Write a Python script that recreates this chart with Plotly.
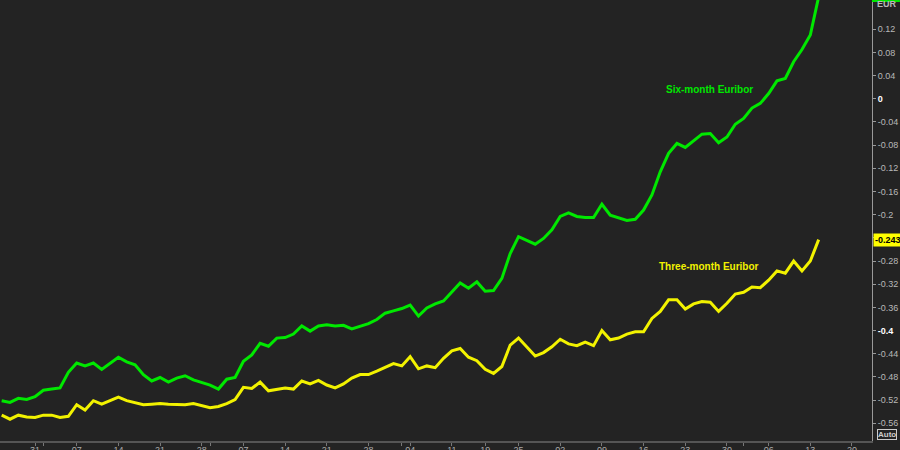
import pandas as pd
import plotly.graph_objects as go

# Trading days (TARGET calendar: weekends, Good Friday and Easter Monday closed)
holidays = ["2022-04-15", "2022-04-18"]
dates = [d.strftime("%Y-%m-%d") for d in
         pd.bdate_range("2022-01-25", "2022-06-14", freq="C", holidays=holidays)]

six_month = [
    -0.521, -0.524, -0.517, -0.519, -0.514, -0.503, -0.501, -0.499, -0.472, -0.456,
    -0.461, -0.456, -0.467, -0.457, -0.446, -0.454, -0.459, -0.476, -0.487, -0.481,
    -0.489, -0.482, -0.478, -0.485, -0.489, -0.494, -0.501, -0.484, -0.481, -0.453,
    -0.442, -0.422, -0.427, -0.413, -0.412, -0.406, -0.392, -0.401, -0.392, -0.390,
    -0.392, -0.391, -0.397, -0.392, -0.388, -0.381, -0.370, -0.366, -0.362, -0.356,
    -0.375, -0.361, -0.354, -0.349, -0.333, -0.318, -0.327, -0.316, -0.332, -0.331,
    -0.310, -0.267, -0.238, -0.244, -0.251, -0.241, -0.226, -0.203, -0.197, -0.203,
    -0.205, -0.205, -0.182, -0.201, -0.206, -0.210, -0.208, -0.192, -0.166, -0.126,
    -0.094, -0.077, -0.084, -0.073, -0.061, -0.060, -0.076, -0.066, -0.044, -0.034,
    -0.016, -0.008, 0.009, 0.031, 0.035, 0.064, 0.085, 0.110, 0.176,
]

three_month = [
    -0.546, -0.553, -0.546, -0.549, -0.550, -0.546, -0.546, -0.550, -0.548, -0.528,
    -0.537, -0.521, -0.527, -0.521, -0.515, -0.521, -0.524, -0.528, -0.527, -0.526,
    -0.527, -0.527, -0.528, -0.526, -0.530, -0.533, -0.531, -0.526, -0.519, -0.498,
    -0.500, -0.489, -0.504, -0.501, -0.499, -0.501, -0.487, -0.492, -0.486, -0.494,
    -0.499, -0.492, -0.482, -0.476, -0.476, -0.470, -0.463, -0.457, -0.461, -0.445,
    -0.466, -0.461, -0.464, -0.448, -0.435, -0.431, -0.446, -0.452, -0.467, -0.474,
    -0.462, -0.425, -0.413, -0.428, -0.444, -0.438, -0.428, -0.415, -0.423, -0.426,
    -0.420, -0.426, -0.400, -0.416, -0.413, -0.406, -0.402, -0.402, -0.379, -0.367,
    -0.347, -0.347, -0.363, -0.354, -0.350, -0.351, -0.367, -0.353, -0.337, -0.334,
    -0.325, -0.326, -0.313, -0.297, -0.301, -0.280, -0.297, -0.280, -0.243,
]

x_tick_dates = ["2022-01-31", "2022-02-07", "2022-02-14", "2022-02-21", "2022-02-28",
                "2022-03-07", "2022-03-14", "2022-03-21", "2022-03-28", "2022-04-04",
                "2022-04-11", "2022-04-19", "2022-04-25", "2022-05-02", "2022-05-09",
                "2022-05-16", "2022-05-23", "2022-05-30", "2022-06-06", "2022-06-13",
                "2022-06-20"]
x_tick_labels = ["31", "07", "14", "21", "28", "07", "14", "21", "28", "04", "11",
                 "19", "25", "02", "09", "16", "23", "30", "06", "13", "20"]
month_starts = ["2022-02-01", "2022-03-01", "2022-04-01", "2022-06-01"]

y_tick_vals = [0.12, 0.08, 0.04, 0.0, -0.04, -0.08, -0.12, -0.16, -0.2, -0.24,
               -0.28, -0.32, -0.36, -0.4, -0.44, -0.48, -0.52, -0.56]
y_tick_labels = ["0.12", "0.08", "0.04", "<b><span style='color:#ffffff'>0</span></b>",
                 "-0.04", "-0.08", "-0.12", "-0.16", "-0.2", "", "-0.28", "-0.32",
                 "-0.36", "<b><span style='color:#ffffff'>-0.4</span></b>", "-0.44",
                 "-0.48", "-0.52", "-0.56"]

GREEN = "#00e800"
YELLOW = "#f2f200"
BG = "#232323"
FONT = "Liberation Sans"

fig = go.Figure()
fig.add_trace(go.Scatter(x=dates, y=six_month, mode="lines", name="Six-month Euribor",
                         line=dict(color=GREEN, width=3)))
fig.add_trace(go.Scatter(x=dates, y=three_month, mode="lines", name="Three-month Euribor",
                         line=dict(color=YELLOW, width=3)))

fig.update_layout(
    width=900, height=450,
    paper_bgcolor=BG, plot_bgcolor=BG,
    margin=dict(l=0, r=28, t=0, b=9),
    showlegend=False,
    font=dict(family=FONT, size=9, color="#b8b8b8"),
    xaxis=dict(
        type="date",
        range=["2022-01-24 19:12", "2022-06-22 09:36"],
        rangebreaks=[dict(bounds=["sat", "mon"]), dict(values=holidays)],
        tickmode="array", tickvals=x_tick_dates, ticktext=x_tick_labels,
        ticks="outside", ticklen=3, tickcolor="#777777",
        ticklabelstandoff=-4,
        showgrid=False, zeroline=False,
        showline=True, linecolor="#555555", linewidth=2,
        tickfont=dict(size=9, color="#aaaaaa"),
        minor=dict(tickmode="array", tickvals=month_starts, ticks="outside",
                   ticklen=3, tickcolor="#777777", showgrid=False),
        automargin=False, fixedrange=True,
    ),
    yaxis=dict(
        side="right",
        range=[-0.5906, 0.1705],
        tickmode="array", tickvals=y_tick_vals, ticktext=y_tick_labels,
        ticks="outside", ticklen=3, tickcolor="#999999",
        showgrid=False, zeroline=False,
        showline=True, linecolor="#999999", linewidth=1,
        tickfont=dict(size=9, color="#b8b8b8"),
        automargin=False, fixedrange=True,
    ),
)

# series labels
fig.add_annotation(xref="paper", yref="y", x=0.8142, xanchor="center", y=0.016,
                   text="<b>Six-month Euribor</b>",
                   showarrow=False, font=dict(family=FONT, size=10, color=GREEN))
fig.add_annotation(xref="paper", yref="y", x=0.813, xanchor="center", y=-0.2886,
                   text="<b>Three-month Euribor</b>",
                   showarrow=False, font=dict(family=FONT, size=10, color=YELLOW))

# last-value tag of the three-month series
fig.add_annotation(xref="paper", yref="y", x=1.0, xanchor="left", xshift=1,
                   y=three_month[-1], text="<b>-0.243</b>", showarrow=False,
                   bgcolor="#ffff00", borderpad=1,
                   font=dict(family=FONT, size=9, color="#000000"))

# last-value tag of the six-month series (clipped at the top)
fig.add_shape(type="rect", xref="paper", yref="paper", x0=1.0, x1=1.032,
              y0=1 - 2 / 441, y1=1.0, fillcolor=GREEN, line=dict(width=0), layer="above")

# currency label
fig.add_annotation(xref="paper", yref="paper", x=1.0, xanchor="left", xshift=3,
                   y=1.0, yanchor="top", yshift=3, text="<b>EUR</b>", showarrow=False,
                   font=dict(family=FONT, size=9, color="#b8b8b8"))

# Auto button
fig.add_annotation(xref="paper", yref="paper", x=1.0, xanchor="left", xshift=5,
                   y=0.0, yanchor="bottom", yshift=1, text="<b>Auto</b>", showarrow=False,
                   bordercolor="#cccccc", borderwidth=1, borderpad=0, bgcolor=BG,
                   font=dict(family=FONT, size=8, color="#cccccc"))

fig.write_html("out.html", config={"displayModeBar": False},
               post_script="document.body.style.margin='0';document.body.style.overflow='hidden';")
